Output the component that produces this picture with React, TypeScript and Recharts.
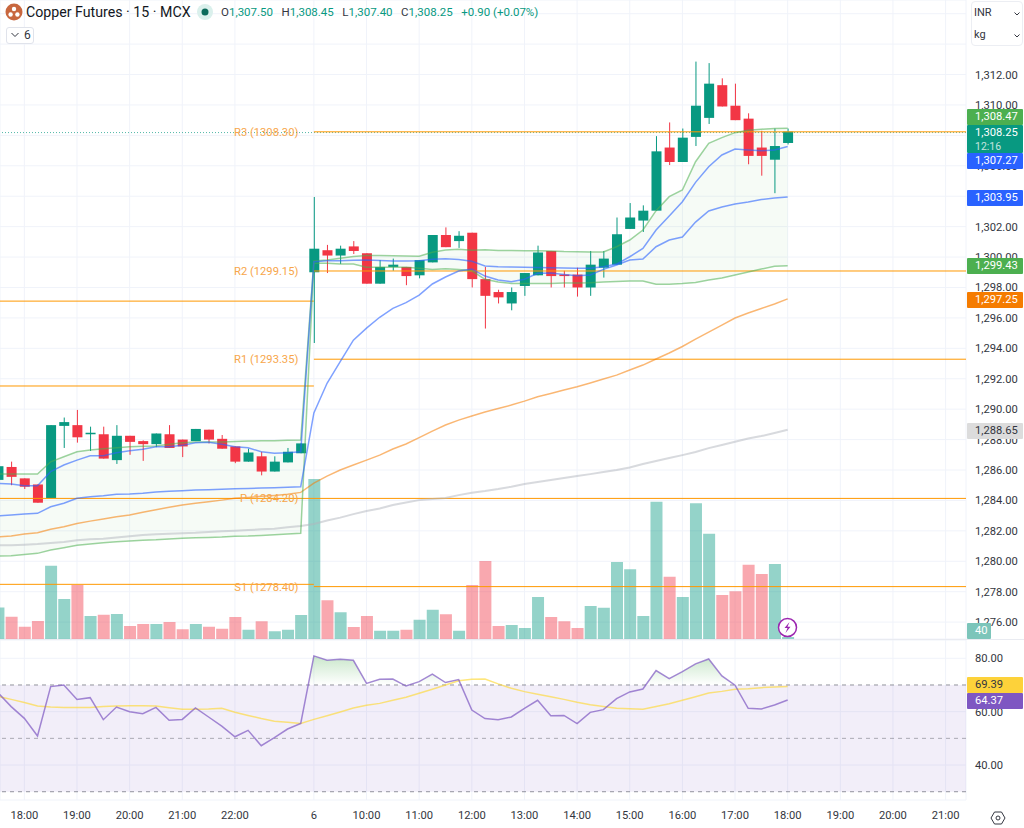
import { Area, Bar, BarChart, CartesianGrid, Cell, ComposedChart, Line, ReferenceArea, ReferenceDot, ReferenceLine, XAxis, YAxis } from "recharts";

// 15 minute bars, first one is 17:30 of the previous session
const FIRST_BAR = -1;
const opens = [
  1285.35, 1286.2, 1285.45, 1285.05, 1284.15, 1288.9, 1288.95, 1288.35, 1288.35, 1286.65,
  1288.25, 1287.9, 1287.7, 1288.35, 1288.0, 1287.9, 1288.65, 1288.05, 1287.55, 1286.55,
  1286.9, 1285.9, 1286.5, 1287.1, 1299.0, 1300.45, 1300.1, 1300.7, 1300.25, 1298.25,
  1299.35, 1299.35, 1298.8, 1299.65, 1301.45, 1301.05, 1301.6, 1298.55, 1297.7, 1296.95,
  1298.1, 1298.8, 1300.4, 1298.85, 1298.85, 1298.0, 1299.3, 1299.5, 1301.85, 1302.4,
  1303.05, 1307.2, 1306.25, 1307.9, 1309.15, 1311.3, 1309.95, 1309.1, 1307.2, 1306.4,
  1307.5,
];
const highs = [
  1286.3, 1286.55, 1285.45, 1285.05, 1288.95, 1289.45, 1289.95, 1288.85, 1288.85, 1288.95,
  1288.25, 1287.95, 1288.4, 1288.95, 1288.0, 1288.7, 1288.65, 1288.3, 1287.55, 1287.4,
  1287.2, 1286.9, 1287.45, 1287.75, 1303.95, 1300.8, 1300.75, 1301.05, 1300.25, 1299.8,
  1299.9, 1299.35, 1299.8, 1301.45, 1301.95, 1301.7, 1301.6, 1299.35, 1297.85, 1298.0,
  1298.95, 1300.75, 1300.4, 1299.1, 1299.3, 1300.4, 1300.4, 1302.6, 1303.55, 1303.4,
  1307.95, 1308.85, 1308.45, 1312.85, 1312.75, 1311.75, 1311.4, 1309.45, 1308.3, 1308.45,
  1308.45,
];
const lows = [
  1285.35, 1285.0, 1284.75, 1283.85, 1284.15, 1287.45, 1287.8, 1287.25, 1286.75, 1286.4,
  1287.0, 1286.6, 1287.5, 1287.45, 1286.85, 1287.9, 1287.75, 1287.4, 1286.45, 1286.55,
  1285.65, 1285.9, 1286.5, 1287.1, 1294.35, 1298.95, 1299.55, 1300.2, 1298.25, 1298.25,
  1299.1, 1298.15, 1298.6, 1299.65, 1300.65, 1300.6, 1298.0, 1295.3, 1296.95, 1296.5,
  1297.45, 1298.8, 1298.0, 1298.0, 1297.4, 1297.45, 1298.65, 1299.5, 1301.85, 1301.65,
  1303.05, 1306.05, 1306.25, 1307.3, 1308.75, 1309.9, 1309.0, 1306.1, 1305.35, 1304.2,
  1307.4,
];
const closes = [
  1286.25, 1285.55, 1284.9, 1283.85, 1288.95, 1289.15, 1288.15, 1288.45, 1286.75, 1288.25,
  1287.85, 1287.7, 1288.4, 1287.45, 1287.55, 1288.7, 1288.0, 1287.4, 1286.55, 1287.15,
  1285.9, 1286.55, 1287.2, 1287.75, 1300.55, 1300.1, 1300.55, 1300.4, 1298.25, 1299.35,
  1299.5, 1298.75, 1299.8, 1301.45, 1300.65, 1301.4, 1298.55, 1297.45, 1297.35, 1297.7,
  1298.95, 1300.3, 1298.75, 1298.75, 1298.0, 1299.5, 1299.9, 1301.5, 1302.6, 1303.05,
  1306.95, 1306.25, 1307.85, 1309.95, 1311.4, 1309.9, 1309.0, 1306.65, 1306.65, 1307.3,
  1308.25,
];
const volumes = [
  630, 445, 245, 360, 1465, 800, 1080, 460, 485, 500,
  260, 300, 300, 340, 195, 300, 245, 205, 440, 185,
  355, 155, 185, 480, 3200, 775, 535, 240, 460, 165,
  165, 185, 385, 585, 495, 165, 1080, 1560, 260, 280,
  220, 840, 440, 355, 220, 660, 625, 1540, 1395, 460,
  2745, 1245, 840, 2715, 2105, 880, 955, 1485, 1300, 1500,
  40,
];
const bandUpper = [
  1285.73, 1285.73, 1285.73, 1285.73, 1286.54, 1286.87, 1287.2, 1287.31, 1287.4, 1287.46,
  1287.53, 1287.56, 1287.58, 1287.69, 1287.79, 1287.84, 1287.84, 1287.84, 1287.88, 1287.9,
  1287.92, 1287.92, 1287.95, 1287.97, 1299.74, 1299.8, 1299.92, 1300.03, 1300.11, 1300.1,
  1300.08, 1300.07, 1300.05, 1300.31, 1300.46, 1300.51, 1300.44, 1300.48, 1300.43, 1300.43,
  1300.42, 1300.42, 1300.4, 1300.36, 1300.35, 1300.33, 1300.33, 1300.68, 1301.12, 1301.78,
  1303.05, 1303.97, 1304.41, 1306.27, 1307.48, 1307.85, 1308.18, 1308.33, 1308.4, 1308.46,
  1308.47,
];
const bandLower = [
  1280.34, 1280.36, 1280.45, 1280.52, 1280.74, 1280.89, 1281.05, 1281.13, 1281.22, 1281.28,
  1281.33, 1281.38, 1281.41, 1281.46, 1281.51, 1281.55, 1281.57, 1281.59, 1281.64, 1281.66,
  1281.7, 1281.74, 1281.79, 1281.84, 1299.59, 1299.59, 1299.54, 1299.54, 1299.33, 1299.33,
  1299.33, 1299.33, 1299.26, 1299.19, 1299.23, 1299.19, 1299.1, 1298.54, 1298.36, 1298.27,
  1298.27, 1298.27, 1298.27, 1298.29, 1298.29, 1298.31, 1298.36, 1298.4, 1298.42, 1298.42,
  1298.21, 1298.21, 1298.26, 1298.33, 1298.49, 1298.62, 1298.82, 1299.02, 1299.21, 1299.39,
  1299.43,
];
const vwap = [
  1285.12, 1285.08, 1284.97, 1284.97, 1285.89, 1286.33, 1286.65, 1286.94, 1286.94, 1287.14,
  1287.27, 1287.36, 1287.53, 1287.53, 1287.62, 1287.79, 1287.82, 1287.69, 1287.53, 1287.46,
  1287.2, 1287.1, 1287.14, 1287.2, 1299.69, 1299.76, 1299.76, 1299.79, 1299.8, 1299.77,
  1299.74, 1299.74, 1299.76, 1299.85, 1299.89, 1299.84, 1299.72, 1299.41, 1299.36, 1299.34,
  1299.33, 1299.31, 1299.29, 1299.28, 1299.26, 1299.26, 1299.36, 1299.54, 1300.02, 1300.57,
  1301.78, 1302.7, 1303.64, 1304.91, 1305.94, 1306.71, 1307.1, 1307.04, 1306.99, 1307.04,
  1307.27,
];
const emaFast = [
  1282.99, 1283.04, 1283.1, 1283.15, 1283.58, 1283.81, 1284.14, 1284.24, 1284.31, 1284.4,
  1284.42, 1284.47, 1284.55, 1284.6, 1284.64, 1284.68, 1284.7, 1284.73, 1284.77, 1284.79,
  1284.81, 1284.83, 1284.86, 1284.9, 1289.75, 1291.7, 1293.12, 1294.54, 1295.33, 1296.04,
  1296.63, 1297.0, 1297.5, 1298.23, 1298.69, 1299.08, 1299.21, 1298.75, 1298.49, 1298.38,
  1298.54, 1298.93, 1298.95, 1298.86, 1298.77, 1298.82, 1299.19, 1299.48, 1299.8, 1299.87,
  1300.68, 1301.12, 1301.32, 1302.3, 1303.03, 1303.29, 1303.49, 1303.62, 1303.78, 1303.88,
  1303.95,
];
const emaMid = [
  1281.61, 1281.66, 1281.79, 1281.87, 1282.1, 1282.27, 1282.49, 1282.64, 1282.78, 1282.93,
  1283.04, 1283.22, 1283.39, 1283.55, 1283.7, 1283.81, 1283.91, 1284.02, 1284.14, 1284.2,
  1284.27, 1284.33, 1284.4, 1284.53, 1285.14, 1285.6, 1286.0, 1286.33, 1286.65, 1286.98,
  1287.38, 1287.71, 1288.13, 1288.56, 1288.96, 1289.28, 1289.55, 1289.81, 1290.04, 1290.27,
  1290.53, 1290.82, 1291.03, 1291.26, 1291.47, 1291.72, 1291.98, 1292.24, 1292.57, 1292.9,
  1293.3, 1293.69, 1294.12, 1294.61, 1295.07, 1295.53, 1295.99, 1296.32, 1296.62, 1296.91,
  1297.25,
];
const emaSlow = [
  1281.05, 1281.05, 1281.09, 1281.13, 1281.2, 1281.26, 1281.38, 1281.44, 1281.48, 1281.57,
  1281.64, 1281.72, 1281.77, 1281.81, 1281.84, 1281.87, 1281.92, 1281.97, 1282.01, 1282.05,
  1282.1, 1282.14, 1282.23, 1282.32, 1282.45, 1282.68, 1282.87, 1283.1, 1283.3, 1283.47,
  1283.7, 1283.86, 1284.02, 1284.09, 1284.16, 1284.35, 1284.51, 1284.62, 1284.75, 1284.9,
  1285.08, 1285.21, 1285.34, 1285.47, 1285.6, 1285.73, 1285.87, 1286.0, 1286.17, 1286.39,
  1286.59, 1286.79, 1286.98, 1287.18, 1287.44, 1287.64, 1287.86, 1288.07, 1288.23, 1288.43,
  1288.65,
];
const rsi = [
  67.1, 61.9, 57.5, 50.9, 69.4, 70.0, 64.6, 65.25, 57.0, 61.75,
  60.0, 59.25, 61.6, 56.75, 57.1, 61.4, 58.0, 54.6, 50.6, 53.0,
  47.25, 50.25, 53.5, 55.6, 80.9, 79.25, 79.6, 79.25, 70.6, 72.1,
  72.25, 69.6, 71.25, 74.1, 70.9, 72.0, 60.6, 57.4, 57.0, 58.0,
  61.25, 64.25, 58.5, 58.6, 55.5, 59.75, 60.75, 64.9, 67.4, 68.5,
  75.4, 72.4, 75.0, 77.9, 79.75, 73.4, 69.9, 61.25, 61.0, 62.5,
  64.37,
];
const rsiMa = [
  65.7, 64.6, 63.4, 62.1, 61.75, 61.6, 61.6, 61.6, 61.9, 62.1,
  62.25, 62.25, 62.1, 61.5, 60.9, 60.9, 61.0, 61.25, 59.75, 58.6,
  57.4, 56.4, 56.0, 55.6, 57.1, 58.5, 59.9, 61.4, 62.4, 63.1,
  64.25, 65.4, 66.9, 68.4, 70.0, 71.6, 72.1, 72.25, 70.4, 68.75,
  67.5, 66.5, 65.6, 64.6, 63.5, 62.6, 61.9, 61.25, 61.1, 60.9,
  61.9, 63.0, 64.25, 65.6, 67.0, 67.6, 68.4, 68.6, 69.0, 69.25,
  69.39,
];

const timeTicks = [1, 5, 9, 13, 17, 23, 27, 31, 35, 39, 43, 47, 51, 55, 59, 63, 67, 71];
const timeLabels = ["18:00", "19:00", "20:00", "21:00", "22:00", "6", "10:00", "11:00", "12:00", "13:00", "14:00", "15:00", "16:00", "17:00", "18:00", "19:00", "20:00", "21:00"];
const priceTicks = [1276, 1278, 1280, 1282, 1284, 1286, 1288, 1290, 1292, 1294, 1296, 1298, 1300, 1302, 1304, 1306, 1308, 1310, 1312, 1314, 1316];
const rsiTicks = [40, 60, 80];
const SESSION_START = 23;
const pivotNames = ["R3", "R2", "R1", "P", "S1"];
const pivotToday = [1308.3, 1299.15, 1293.35, 1284.2, 1278.4];
const pivotPrev = [1297.17, 1291.59, 1278.55];

const rows = opens.map((open, i) => ({
  x: i + FIRST_BAR,
  open,
  high: highs[i],
  low: lows[i],
  close: closes[i],
  volume: volumes[i],
  bandUpper: bandUpper[i],
  bandLower: bandLower[i],
  vwap: vwap[i],
  emaFast: emaFast[i],
  emaMid: emaMid[i],
  emaSlow: emaSlow[i],
  rsi: rsi[i],
  rsiMa: rsiMa[i],
}));

const UP = "#089981";
const DOWN = "#F23645";
const GRID = "#f0f3fa";
const FONT = "Roboto, sans-serif";
const X_DOMAIN: [number, number] = [-0.85, 72.55];
const PRICE_DOMAIN: [number, number] = [1274.89, 1316.9];
const PIVOT_DOMAIN: [number, number] = [1274.956, 1316.966];
const TEXT = "#333640";
const AXIS_FONT = 11.2;

const fmt = (v: number) => v.toLocaleString("en-US", { minimumFractionDigits: 2, maximumFractionDigits: 2 });
const last = (a: number[]) => a[a.length - 1];
const rsiTop = Math.max(...rsi);
const rsiBottom = Math.min(...rsi);
const obStop = (rsiTop - 70) / (rsiTop - rsiBottom);

function Candle(props: any) {
  const { x, y, width, height, payload } = props;
  const perUnit = height / (payload.high - payload.low);
  const toY = (p: number) => y + (payload.high - p) * perUnit;
  const color = payload.close >= payload.open ? UP : DOWN;
  const top = toY(Math.max(payload.open, payload.close));
  const bottom = toY(Math.min(payload.open, payload.close));
  const mid = x + width / 2;
  return (
    <g>
      <line x1={mid} x2={mid} y1={y} y2={y + height} stroke={color} strokeWidth={1} />
      <rect x={x} y={top} width={width} height={Math.max(bottom - top, 1)} fill={color} />
    </g>
  );
}

function Tag({ top, height = 16, width = 56, bg, color = "#fff", children }: any) {
  return (
    <div style={{ position: "absolute", left: 967, top, width, height, background: bg, color, fontFamily: FONT, fontSize: AXIS_FONT, lineHeight: `${height}px`, paddingLeft: 8, boxSizing: "border-box", borderRadius: 1 }}>
      {children}
    </div>
  );
}

function App() {
  const lastBar = rows[rows.length - 1];
  return (
    <div style={{ position: "absolute", left: 0, top: 0, width: 1024, height: 828, background: "#fff", overflow: "hidden", fontFamily: FONT }}>
      {/* grid, price scale and volume */}
      <div style={{ position: "absolute", left: 0, top: 0 }}>
        <BarChart width={1024} height={639} data={rows} margin={{ top: 0, right: 0, bottom: 0, left: 0 }}>
          <CartesianGrid stroke={GRID} />
          <XAxis dataKey="x" type="number" domain={X_DOMAIN} ticks={timeTicks} allowDataOverflow hide />
          <YAxis orientation="right" width={58} domain={PRICE_DOMAIN} ticks={priceTicks} allowDataOverflow axisLine={false} tickLine={false} tickMargin={3} interval={0}
            tickFormatter={(v: number) => (v > 1312 ? "" : fmt(v))} tick={{ fontSize: AXIS_FONT, fill: TEXT, fontFamily: FONT }} />
          <YAxis yAxisId="vol" hide domain={[0, 12780]} allowDataOverflow />
          <Bar yAxisId="vol" dataKey="volume" barSize={12} isAnimationActive={false}>
            {rows.map((r) => (
              <Cell key={r.x} fill={r.close >= r.open ? UP : DOWN} fillOpacity={0.43} />
            ))}
          </Bar>
        </BarChart>
      </div>

      {/* candles, bands, averages, pivots */}
      <div style={{ position: "absolute", left: 0, top: 0 }}>
        <ComposedChart width={1024} height={639} data={rows} margin={{ top: 0, right: 58, bottom: 0, left: 0 }}>
          <XAxis dataKey="x" type="number" domain={X_DOMAIN} allowDataOverflow hide />
          <YAxis orientation="right" domain={PRICE_DOMAIN} allowDataOverflow hide />
          <YAxis yAxisId="pivot" orientation="right" domain={PIVOT_DOMAIN} allowDataOverflow hide />
          <Area dataKey={(d: any) => [d.bandLower, d.bandUpper]} stroke="none" fill="#4caf50" fillOpacity={0.05} isAnimationActive={false} />
          <ReferenceLine yAxisId="pivot" y={last(closes)} stroke={UP} strokeOpacity={0.7} strokeDasharray="1 2" />
          {pivotToday.map((v) => (
            <ReferenceLine key={v} yAxisId="pivot" stroke="#ff9800" segment={[{ x: v === 1284.2 ? X_DOMAIN[0] : SESSION_START, y: v }, { x: X_DOMAIN[1], y: v }]} />
          ))}
          {pivotPrev.map((v) => (
            <ReferenceLine key={v} yAxisId="pivot" stroke="#ff9800" segment={[{ x: X_DOMAIN[0], y: v }, { x: SESSION_START, y: v }]} />
          ))}
          {pivotToday.map((v, i) => (
            <ReferenceDot key={v} yAxisId="pivot" x={22.2} y={v} r={0} stroke="none" fill="none"
              label={{ value: `${pivotNames[i]} (${fmt(v).replace(",", "")})`, position: "left", fill: "#f7a64a", fontSize: 11.2, fontFamily: FONT }} />
          ))}
          <Line dataKey="emaSlow" stroke="#b2b5be" strokeOpacity={0.5} strokeWidth={2} dot={false} isAnimationActive={false} />
          <Line dataKey="emaMid" stroke="#f57c00" strokeOpacity={0.55} strokeWidth={1.5} dot={false} isAnimationActive={false} />
          <Line dataKey="bandUpper" stroke="#4caf50" strokeOpacity={0.55} strokeWidth={1.5} dot={false} isAnimationActive={false} />
          <Line dataKey="bandLower" stroke="#4caf50" strokeOpacity={0.55} strokeWidth={1.5} dot={false} isAnimationActive={false} />
          <Line dataKey="emaFast" stroke="#2962ff" strokeOpacity={0.6} strokeWidth={1.5} dot={false} isAnimationActive={false} />
          <Line dataKey="vwap" stroke="#2962ff" strokeOpacity={0.6} strokeWidth={1.5} dot={false} isAnimationActive={false} />
          <Bar dataKey={(d: any) => [d.low, d.high]} barSize={10} shape={Candle} isAnimationActive={false} />
        </ComposedChart>
      </div>

      {/* RSI pane */}
      <div style={{ position: "absolute", left: 0, top: 640 }}>
        <ComposedChart width={1024} height={188} data={rows} margin={{ top: 0, right: 0, bottom: 0, left: 0 }}>
          <defs>
            <linearGradient id="overbought" x1="0" y1="0" x2="0" y2="1">
              <stop offset={0} stopColor="#4caf50" stopOpacity={0.5} />
              <stop offset={obStop} stopColor="#4caf50" stopOpacity={0} />
              <stop offset={obStop} stopColor="#4caf50" stopOpacity={0} />
            </linearGradient>
          </defs>
          <CartesianGrid stroke={GRID} />
          <XAxis dataKey="x" type="number" domain={X_DOMAIN} ticks={timeTicks} interval={0} allowDataOverflow height={28} axisLine={false} tickLine={false} tickMargin={5}
            tickFormatter={(v: number) => timeLabels[timeTicks.indexOf(v)]} tick={{ fontSize: AXIS_FONT, fill: TEXT, fontFamily: FONT }} />
          <YAxis orientation="right" width={58} domain={[26.9, 86.85]} ticks={rsiTicks} interval={0} allowDataOverflow axisLine={false} tickLine={false} tickMargin={3}
            tickFormatter={fmt} tick={{ fontSize: AXIS_FONT, fill: TEXT, fontFamily: FONT }} />
          <ReferenceArea y1={30} y2={70} fill="#7e57c2" fillOpacity={0.1} stroke="none" />
          <ReferenceLine y={70} stroke="#787b86" strokeOpacity={0.8} strokeDasharray="4 4" />
          <ReferenceLine y={50} stroke="#787b86" strokeOpacity={0.6} strokeDasharray="4 4" />
          <ReferenceLine y={30} stroke="#787b86" strokeOpacity={0.8} strokeDasharray="4 4" />
          <Area dataKey="rsi" baseValue={70} stroke="none" fill="url(#overbought)" isAnimationActive={false} />
          <Line dataKey="rsiMa" stroke="#fdd835" strokeOpacity={0.65} strokeWidth={1.5} dot={false} isAnimationActive={false} />
          <Line dataKey="rsi" stroke="#7e57c2" strokeOpacity={0.7} strokeWidth={1.5} dot={false} isAnimationActive={false} />
        </ComposedChart>
      </div>

      <div style={{ position: "absolute", left: 0, top: 639, width: 1024, height: 1, background: "#e9ebf1" }} />

      {/* last value tags */}
      <Tag top={109} bg="#4caf50">{fmt(last(bandUpper))}</Tag>
      <Tag top={125} height={28} bg={UP}>
        <div style={{ lineHeight: "15px", paddingTop: 0 }}>{fmt(lastBar.close)}</div>
        <div style={{ lineHeight: "13px", fontSize: 10.5, opacity: 0.75 }}>12:16</div>
      </Tag>
      <Tag top={153} bg="#2962ff">{fmt(last(vwap))}</Tag>
      <Tag top={190} bg="#2962ff">{fmt(last(emaFast))}</Tag>
      <Tag top={258} bg="#4caf50">{fmt(last(bandLower))}</Tag>
      <Tag top={292} bg="#f57c00">{fmt(last(emaMid))}</Tag>
      <Tag top={423} bg="#dcdcdc" color={TEXT}>{fmt(last(emaSlow))}</Tag>
      <Tag top={623} width={24} bg="#7cc5ba">{lastBar.volume}</Tag>
      <Tag top={677} bg="#fdd23a" color={TEXT}>{fmt(last(rsiMa))}</Tag>
      <Tag top={693} bg="#7e57c2">{fmt(last(rsi))}</Tag>

      {/* symbol header */}
      <svg style={{ position: "absolute", left: 5, top: 3 }} width={18} height={18} viewBox="0 0 18 18">
        <circle cx={9} cy={9} r={8.5} fill="#c8673f" />
        <circle cx={9} cy={6} r={2.2} fill="#fff" />
        <circle cx={5.6} cy={11.5} r={2.2} fill="#fff" />
        <circle cx={12.4} cy={11.5} r={2.2} fill="#fff" />
      </svg>
      <div style={{ position: "absolute", left: 26, top: 3, fontSize: 14.2, lineHeight: "18px", color: "#131722", whiteSpace: "nowrap" }}>Copper Futures · 15 · MCX</div>
      <svg style={{ position: "absolute", left: 197, top: 4 }} width={16} height={16} viewBox="0 0 16 16">
        <circle cx={8} cy={8} r={8} fill="#daf0ec" />
        <circle cx={8} cy={8} r={3.5} fill="#0b6b5b" />
      </svg>
      <div style={{ position: "absolute", left: 221, top: 4, fontSize: 11.5, lineHeight: "16px", whiteSpace: "nowrap", color: UP }}>
        {[["O", lastBar.open], ["H", lastBar.high], ["L", lastBar.low], ["C", lastBar.close]].map(([k, v]) => (
          <span key={k as string} style={{ marginRight: 8.5 }}>
            <span style={{ color: TEXT }}>{k}</span>
            {fmt(v as number)}
          </span>
        ))}
        <span>+0.90 (+0.07%)</span>
      </div>
      <div style={{ position: "absolute", left: 6, top: 27, width: 28, height: 17, boxSizing: "border-box", border: "1px solid #e0e3eb", borderRadius: 3, background: "#fff", fontSize: 12, lineHeight: "15px", color: TEXT }}>
        <svg style={{ position: "absolute", left: 4, top: 4 }} width={8} height={6} viewBox="0 0 8 6">
          <path d="M0.5 1 L4 4.5 L7.5 1" fill="none" stroke={TEXT} strokeWidth={1} />
        </svg>
        <span style={{ position: "absolute", left: 17 }}>6</span>
      </div>

      {/* currency and unit box */}
      <div style={{ position: "absolute", left: 971, top: 1, width: 52, height: 45, boxSizing: "border-box", border: "1px solid #eceef3", borderRadius: 4, background: "#fff", fontSize: 11, color: TEXT }}>
        <span style={{ position: "absolute", left: 2, top: 4 }}>INR</span>
        <span style={{ position: "absolute", left: 2, top: 26 }}>kg</span>
        {[10, 32].map((t) => (
          <svg key={t} style={{ position: "absolute", left: 42, top: t }} width={6} height={4} viewBox="0 0 6 4">
            <path d="M0.5 0.5 L3 3 L5.5 0.5" fill="none" stroke={TEXT} strokeWidth={1} />
          </svg>
        ))}
      </div>

      {/* lightning marker and scale settings */}
      <svg style={{ position: "absolute", left: 777, top: 617 }} width={21} height={21} viewBox="0 0 21 21">
        <circle cx={10.5} cy={10.5} r={9} fill="#fff" stroke="#9c27b0" strokeWidth={1.5} />
        <path d="M12.5 5 L7.5 11 L10.5 11 L8.5 16 L13.5 9.8 L10.5 9.8 Z" fill="#9c27b0" />
      </svg>
      <svg style={{ position: "absolute", left: 990, top: 810 }} width={16} height={16} viewBox="0 0 16 16">
        <path d="M4.5 2 L11.5 2 L15 8 L11.5 14 L4.5 14 L1 8 Z" fill="none" stroke={TEXT} strokeWidth={1} />
        <circle cx={8} cy={8} r={2} fill="none" stroke={TEXT} strokeWidth={1} />
      </svg>
    </div>
  );
}

export default App;
